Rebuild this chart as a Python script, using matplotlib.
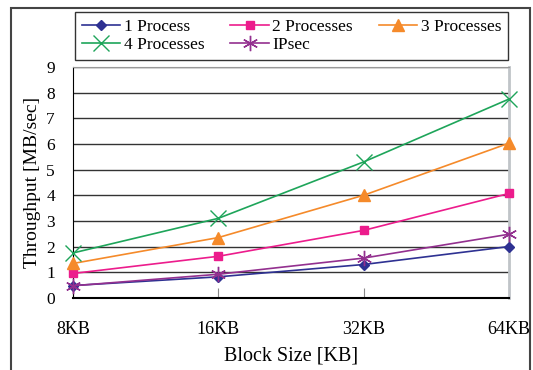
import matplotlib
matplotlib.use('Agg')
import matplotlib.pyplot as plt
from matplotlib.patches import Rectangle

plt.rcParams['font.family'] = ['Liberation Serif', 'DejaVu Serif']

# データ
block_sizes = ['8KB', '16KB', '32KB', '64KB']
proc1 = [0.48, 0.82, 1.30, 2.00]
proc2 = [0.95, 1.62, 2.63, 4.07]
proc3 = [1.34, 2.35, 4.00, 6.03]
proc4 = [1.75, 3.10, 5.30, 7.75]
ipsec = [0.47, 0.92, 1.55, 2.48]

fig = plt.figure(figsize=(5.33, 3.70), dpi=100)
ax = fig.add_axes([0.137, 0.195, 0.818, 0.624])

x = range(len(block_sizes))
l1, = ax.plot(x, proc1, color='#2E3192', marker='D', ms=5, lw=1.2, label='1 Process', clip_on=False, zorder=5)
l2, = ax.plot(x, proc2, color='#EC1C8C', marker='s', ms=6, lw=1.2, label='2 Processes', clip_on=False, zorder=5)
l3, = ax.plot(x, proc3, color='#F58A2A', marker='^', ms=8, lw=1.2, label='3 Processes', clip_on=False, zorder=5)
l4, = ax.plot(x, proc4, color='#1EA55A', marker='x', ms=12, mew=1.0, lw=1.2, label='4 Processes', clip_on=False, zorder=5)
l5, = ax.plot(x, ipsec, color='#93308F', marker=(6, 2, 0), ms=11, mew=1.0, lw=1.2, label='IPsec', clip_on=False, zorder=5)

ax.set_xlim(0, 3)
ax.set_ylim(0, 9)
ax.set_yticks(range(10))
ax.set_xticks(list(x))
ax.set_xticklabels(block_sizes)
ax.grid(axis='y', color='#333333', lw=1)
ax.tick_params(axis='x', direction='in', length=7, pad=17, labelsize=13, color='#888888')
ax.tick_params(axis='y', length=0, pad=13, labelsize=12.5)
ax.spines['left'].set_color('black')
ax.spines['bottom'].set_color('black')
ax.spines['bottom'].set_linewidth(1.5)
ax.spines['top'].set_color('#999999')
ax.spines['right'].set_color('#C0C4C8')
ax.spines['right'].set_linewidth(2)
ax.set_xlabel('Block Size [KB]', fontsize=14.5, labelpad=6)
ax.set_ylabel('Throughput [MB/sec]', fontsize=14, labelpad=4)

# 凡例
leg = fig.legend([l1, l4, l2, l5, l3], ['1 Process', '4 Processes', '2 Processes', 'IPsec', '3 Processes'],
                 ncol=3, loc='upper left', bbox_to_anchor=(0.141, 0.841, 0.812, 0.127), mode='expand',
                 fontsize=12.5, frameon=True, fancybox=False, edgecolor='black', handlelength=2.2,
                 handletextpad=0.2, borderpad=0.4, labelspacing=0.12, borderaxespad=0)
leg.get_frame().set_linewidth(1.0)

# 外枠
fig.patches.append(Rectangle((11 / 533, -0.05), (530 - 11) / 533, 1.05 - 8 / 370, transform=fig.transFigure,
                             fill=False, edgecolor='#444444', lw=1.5))

fig.savefig('out.png', dpi=100)
